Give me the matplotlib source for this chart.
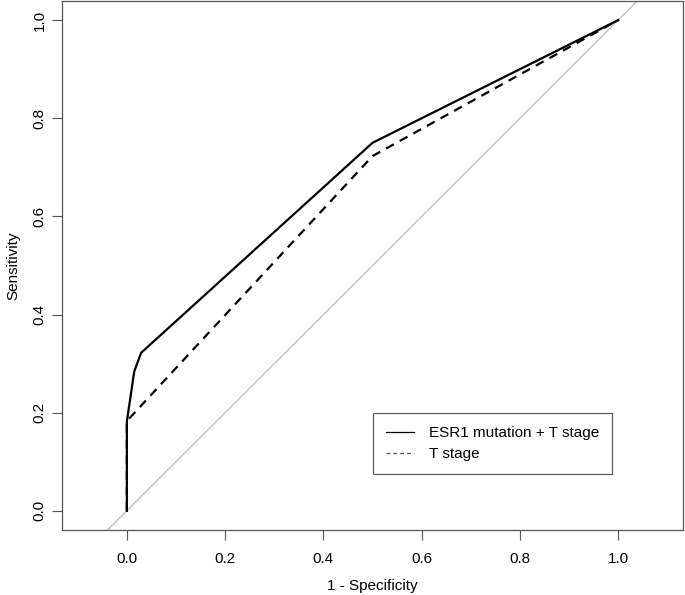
import matplotlib
matplotlib.use('Agg')
import matplotlib.pyplot as plt
from matplotlib.lines import Line2D

plt.rcParams['font.family'] = ['Liberation Sans', 'DejaVu Sans']

# ROC points (1 - specificity, sensitivity)
fpr_combined = [0.0, 0.0, 0.015, 0.029, 0.5, 1.0]
tpr_combined = [0.0, 0.182, 0.284, 0.322, 0.75, 1.0]
fpr_tstage = [0.0, 0.0, 0.5, 1.0]
tpr_tstage = [0.0, 0.183, 0.723, 1.0]
labels = ['ESR1 mutation + T stage', 'T stage']
ticks = [0.0, 0.2, 0.4, 0.6, 0.8, 1.0]

fig = plt.figure(figsize=(6.85, 5.95), dpi=100)
ax = fig.add_axes([62/685, 65/595, 621/685, 529/595])

# chance line
ax.plot([-0.2, 1.2], [-0.2, 1.2], color='#bbbbbb', lw=0.9, zorder=1)
ax.plot(fpr_tstage, tpr_tstage, color='black', lw=1.6, ls=(0, (4, 3)), zorder=2)
ax.plot(fpr_combined, tpr_combined, color='black', lw=1.6, zorder=3)

ax.set_xlim(-0.132, 1.132)
ax.set_ylim(-0.039, 1.039)
ax.set_xticks(ticks)
ax.set_yticks(ticks)
ax.set_xticklabels([f'{t:.1f}' for t in ticks], fontsize=11)
ax.set_yticklabels([f'{t:.1f}' for t in ticks], fontsize=11, rotation=90, va='center')
ax.tick_params(direction='out', length=7, width=0.8, color='#555555')
ax.tick_params(axis='x', pad=9)
ax.tick_params(axis='y', pad=4)
for s in ax.spines.values():
    s.set_color('#555555')
    s.set_linewidth(0.9)

ax.set_xlabel('1 - Specificity', fontsize=11, labelpad=9)
ax.set_ylabel('Sensitivity', fontsize=11, labelpad=9)

handles = [Line2D([], [], color='black', lw=0.9),
           Line2D([], [], color='#555555', lw=0.9, ls=(0, (3, 2.5)))]
leg = ax.legend(handles, labels, loc='lower left', bbox_to_anchor=(0.501, 0.106),
                borderaxespad=0, fontsize=11, frameon=True, fancybox=False,
                handlelength=1.8, handletextpad=1.0, borderpad=0.85, labelspacing=0.45)
leg.get_frame().set_edgecolor('#333333')
leg.get_frame().set_linewidth(0.9)

fig.savefig('out.png', dpi=100)
